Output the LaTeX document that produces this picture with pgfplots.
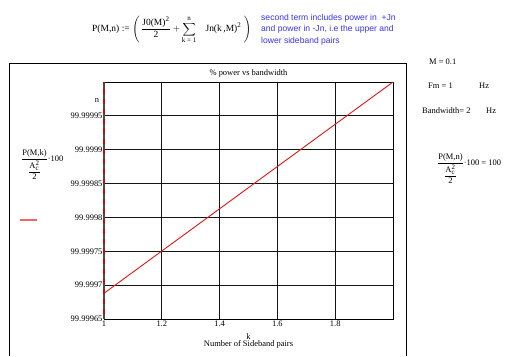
\documentclass[border=0pt]{standalone}
\usepackage{amsmath}
\usepackage{pgfplots}
\pgfplotsset{compat=1.18}
\usepackage{fontspec}
\setmainfont{Liberation Serif}
\setsansfont{Liberation Sans}
\definecolor{mcblue}{RGB}{51,51,255}
\definecolor{mcred}{RGB}{230,20,20}
\definecolor{mcgrid}{RGB}{20,20,20}
\newcommand{\fs}{\fontsize{8.5}{10}\selectfont}
\begin{document}
\begin{tikzpicture}[x=1bp,y=-1bp]
\useasboundingbox (0,0) rectangle (520,356);
% outer frame
\draw[black, line width=0.8bp] (9,356) -- (9,63) -- (406,63) -- (406,356);
% formula
\node[anchor=west, inner sep=0] at (92,30) {\fontsize{9.5}{11}\selectfont $\displaystyle \mbox{P(M,n)} \mathrel{\mbox{:=}} \left(\,\frac{\mbox{J0(M)}^{\mbox{\scriptsize 2}}}{\mbox{2}} + \sum_{\mbox{\scriptsize k = 1}}^{\mbox{\scriptsize n}}\;\;\; \mbox{Jn(k\,,M)}^{\mbox{\scriptsize 2}}\;\right)$};
\node[anchor=north west, inner sep=0, align=left, text=mcblue, font=\sffamily\fontsize{8.6}{11.5}\selectfont] at (261,14) {second term includes power in\ \ +Jn\\and power in -Jn, i.e the upper and\\lower sideband pairs};
% right side
\node[anchor=west, inner sep=0, font=\fs] at (429,62) {M = 0.1};
\node[anchor=west, inner sep=0, font=\fs] at (428,86) {Fm = 1};
\node[anchor=west, inner sep=0, font=\fs] at (479,86) {Hz};
\node[anchor=west, inner sep=0, font=\fs] at (422,111) {Bandwidth= 2};
\node[anchor=west, inner sep=0, font=\fs] at (486,111) {Hz};
\node[anchor=west, inner sep=0, font=\fs] at (437,169) {$\dfrac{\mbox{P(M,n)}}{\dfrac{\mbox{A}_{\mbox{\scriptsize c}}^{\mbox{\scriptsize 2}}}{\mbox{2}}}\mbox{·100 = 100}$};
% left y label
\node[anchor=west, inner sep=0, font=\fs] at (21,165) {$\dfrac{\mbox{P(M,k)}}{\dfrac{\mbox{A}_{\mbox{\scriptsize c}}^{\mbox{\scriptsize 2}}}{\mbox{2}}}\mbox{·100}$};
\draw[mcred!65, line width=1.3bp] (20,220) -- (37,220);
\node[font=\fs, inner sep=0] at (97,100) {n};
% y values are given as millionths of a percent above 99.99965 (TeX cannot resolve the raw range):
% 0 = 99.99965, 350 = 100.00000
\begin{axis}[
  at={(104bp,-319bp)}, anchor=south west,
  scale only axis, width=289bp, height=237bp,
  xmin=1, xmax=2, ymin=0, ymax=350,
  xtick={1,1.2,1.4,1.6,1.8},
  xticklabels={1,1.2,1.4,1.6,1.8},
  ytick={0,50,100,150,200,250,300,350},
  yticklabels={99.99965,99.9997,99.99975,99.9998,99.99985,99.9999,99.99995,},
  grid=major,
  major grid style={mcgrid, line width=1bp},
  axis line style={black, line width=1bp},
  tick style={draw=none},
  tick label style={font=\fs},
  yticklabel style={xshift=2bp},
  xticklabel style={yshift=2bp},
  title={\fs \% power vs bandwidth},
  title style={yshift=-5bp},
  xlabel={\fs\begin{tabular}{c}k\\[-2.5pt]Number of Sideband pairs\end{tabular}},
  xlabel style={yshift=1bp},
  clip=false,
]
\addplot[mcred, line width=0.9bp] coordinates {(1,38) (2,350)};
\draw[mcred!80!black, line width=1.3bp] (rel axis cs:0,0) -- (rel axis cs:0,1);
\draw[black!70, line width=1.3bp, dash pattern=on 5bp off 5bp] (rel axis cs:0,0) -- (rel axis cs:0,1);
\end{axis}
\end{tikzpicture}
\end{document}
